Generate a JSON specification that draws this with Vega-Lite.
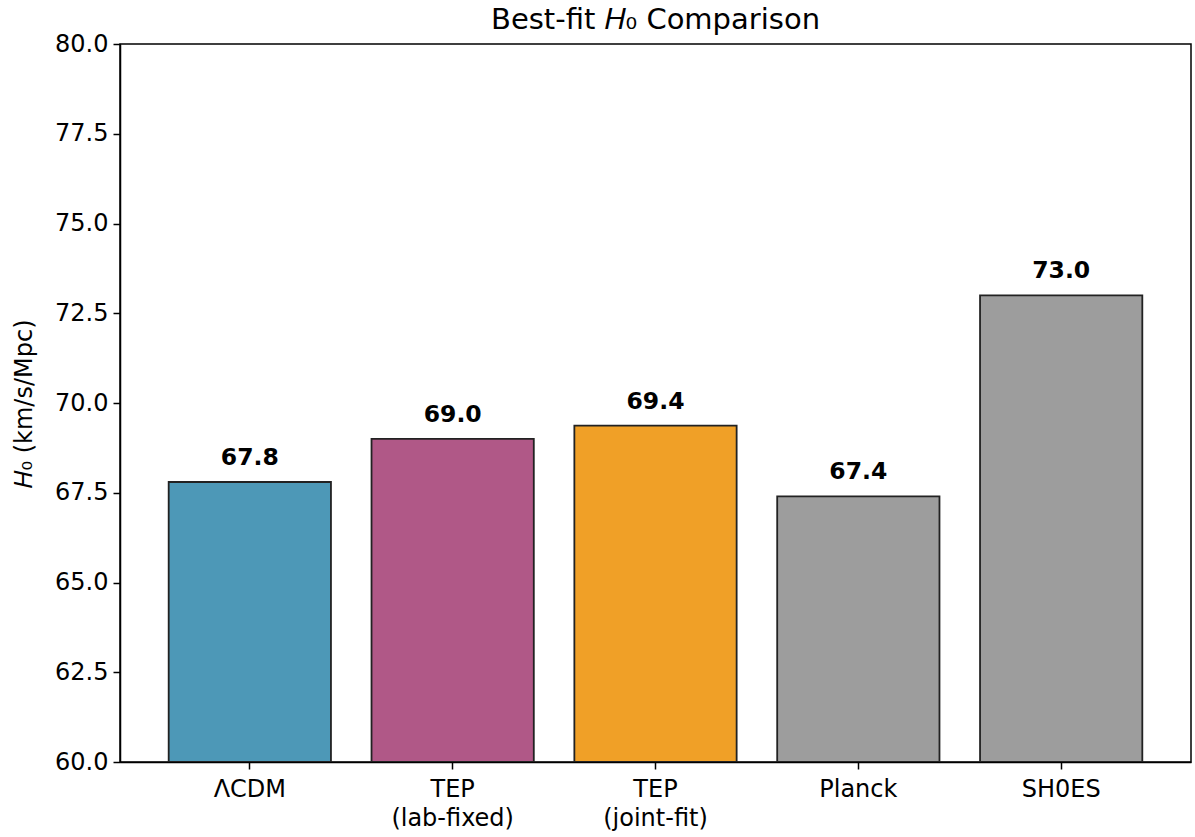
{
  "$schema": "https://vega.github.io/schema/vega-lite/v6.json",
  "width": 1071,
  "height": 718,
  "autosize": "none",
  "padding": {"left": 120, "top": 44, "right": 4, "bottom": 75},
  "background": "white",
  "config": {
    "font": "DejaVu Sans",
    "view": {"stroke": "black", "strokeWidth": 1.5},
    "axis": {"grid": false, "domainColor": "black", "domainWidth": 1.5, "tickColor": "black", "tickWidth": 1.5, "tickSize": 7, "labelColor": "black", "labelFontSize": 24, "titleFontSize": 24, "titleColor": "black", "titleFontWeight": "normal", "labelFont": "DejaVu Sans", "titleFont": "DejaVu Sans"}
  },
  "title": {"text": "Best-fit 𝐻₀ Comparison", "fontSize": 29, "fontWeight": "normal", "font": "DejaVu Sans", "color": "black", "frame": "group", "offset": 10, "dy": 13},
  "data": {
    "values": [
      {"model": "ΛCDM", "h0": 67.8, "color": "#4D98B7"},
      {"model": "TEP\n(lab-fixed)", "h0": 69.0, "color": "#B05887"},
      {"model": "TEP\n(joint-fit)", "h0": 69.37, "color": "#F0A027"},
      {"model": "Planck", "h0": 67.4, "color": "#9D9D9D"},
      {"model": "SH0ES", "h0": 73.0, "color": "#9D9D9D"}
    ]
  },
  "encoding": {
    "x": {
      "field": "model", "type": "nominal", "sort": null,
      "scale": {"paddingInner": 0.2, "paddingOuter": 0.24},
      "axis": {"title": null, "labelAngle": 0, "labelPadding": 8, "labelLineHeight": 29, "labelExpr": "split(datum.label, '\\n')"}
    },
    "y": {
      "field": "h0", "type": "quantitative",
      "scale": {"domain": [60, 80], "nice": false, "zero": false, "clamp": true},
      "axis": {"title": "𝐻₀ (km/s/Mpc)", "values": [60, 62.5, 65, 67.5, 70, 72.5, 75, 77.5, 80], "format": ".1f", "labelPadding": 5, "titlePadding": 18}
    }
  },
  "layer": [
    {
      "mark": {"type": "bar", "stroke": "#222222", "strokeWidth": 1.8, "clip": true},
      "encoding": {"color": {"field": "color", "type": "nominal", "scale": null}, "y2": {"datum": 60}}
    },
    {
      "mark": {"type": "text", "fontSize": 23.5, "fontWeight": "bold", "baseline": "alphabetic", "dy": -17, "color": "black"},
      "encoding": {"text": {"field": "h0", "type": "quantitative", "format": ".1f"}}
    }
  ]
}
